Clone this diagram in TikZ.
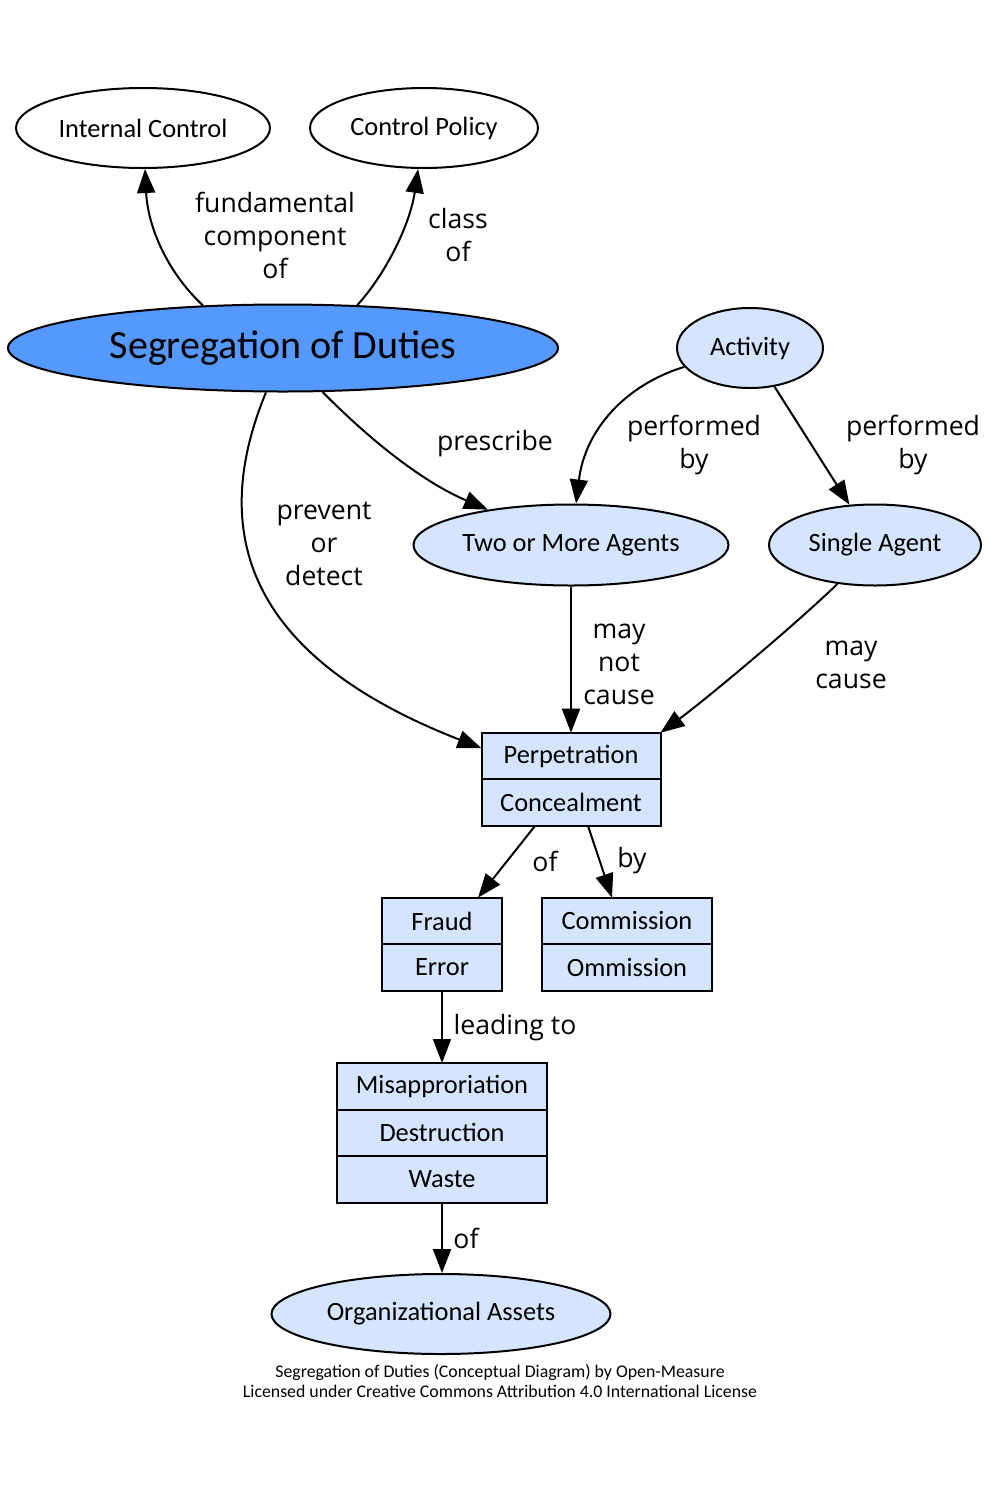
\documentclass[tikz,border=0pt]{standalone}
\usepackage{fontspec}
\setmainfont{Carlito}
\newfontfamily\lblfont{Open Sans}
\usetikzlibrary{shapes.geometric,arrows.meta}
\definecolor{sodblue}{HTML}{5599FF}
\definecolor{paleblue}{HTML}{D5E5FF}
\tikzset{
  oval/.style={ellipse, draw, line width=1pt, inner sep=0pt,
    minimum height=40pt, font=\fontsize{13.2}{16}\selectfont},
  cell/.style={rectangle, draw, line width=1pt, fill=paleblue, inner sep=0pt,
    outer sep=0pt, minimum height=23.3pt, font=\fontsize{13.2}{16}\selectfont},
  lbl/.style={align=center, inner sep=0pt,
    font=\lblfont\fontsize{13.3}{16.5}\selectfont},
  conn/.style={line width=1pt, -{Triangle[length=12pt,width=9pt]}}
}
\begin{document}
\begin{tikzpicture}[x=0.5pt, y=-0.5pt]
  \useasboundingbox (0, 0) rectangle (1000, 1500);
  % top concepts
  \node [oval, minimum width=127pt] (ic) at (143, 128) {Internal Control};
  \node [oval, minimum width=114pt] (cp) at (424, 128) {Control Policy};
  \node [oval, fill=sodblue, minimum width=275pt, minimum height=43.5pt,
    font=\fontsize{20}{24}\selectfont] (sod) at (283, 348) {Segregation of Duties};
  % agents
  \node [oval, fill=paleblue, minimum width=73pt] (act) at (750, 348) {Activity};
  \node [oval, fill=paleblue, minimum width=157.5pt, minimum height=40.5pt] (two) at (571, 545) {Two or More Agents};
  \node [oval, fill=paleblue, minimum width=106pt, minimum height=40.5pt] (single) at (875, 545) {Single Agent};
  % records
  \node [cell, minimum width=89.5pt] (perp) at (571, 756) {Perpetration};
  \node [cell, minimum width=89.5pt, anchor=north] (conceal) at (perp.south) {Concealment};
  \node [cell, minimum width=60pt] (fraud) at (442, 921) {Fraud};
  \node [cell, minimum width=60pt, anchor=north] (error) at (fraud.south) {Error};
  \node [cell, minimum width=85pt] (comm) at (627, 921) {Commission};
  \node [cell, minimum width=85pt, anchor=north] (omm) at (comm.south) {Ommission};
  \node [cell, minimum width=105pt] (misapp) at (442, 1086.3) {Misapproriation};
  \node [cell, minimum width=105pt, anchor=north] (destr) at (misapp.south) {Destruction};
  \node [cell, minimum width=105pt, anchor=north] (waste) at (destr.south) {Waste};
  \node [oval, fill=paleblue, minimum width=169.5pt] (assets) at (441, 1314) {Organizational Assets};
  % connectors
  \draw [conn] (sod.152) .. controls (170, 275) and (148, 230) .. (ic);
  \draw [conn] (sod.30) .. controls (385, 275) and (410, 225) .. (cp);
  \draw [conn] (sod.-111) .. controls (205, 540) and (255, 660) .. (perp.175);
  \draw [conn] (sod.-48) .. controls (380, 450) and (430, 485) .. (two);
  \draw [conn] (act.196) .. controls (625, 385) and (585, 430) .. (two);
  \draw [conn] (act) -- (single);
  \draw [conn] (two) -- (perp);
  \draw [conn] (single.-134) .. controls (795, 625) and (705, 700) .. (perp.north east);
  \draw [conn] ([xshift=-18pt]conceal.south) -- ([xshift=18pt]fraud.north);
  \draw [conn] ([xshift=8.5pt]conceal.south) -- ([xshift=-7.5pt]comm.north);
  \draw [conn] (error) -- (misapp);
  \draw [conn] (waste) -- (waste |- assets.north);
  % connector labels
  \node [lbl] (lfund) at (275, 235) {fundamental\\component\\of};
  \node [lbl] (lclass) at (458, 235) {class\\of};
  \node [lbl] (lprev) at (324, 544) {prevent\\or\\detect};
  \node [lbl] (lpres) at (495, 444) {prescribe};
  \node [lbl] (lperf) at (694, 445) {performed\\by};
  \node [lbl] (lperfs) at (913, 445) {performed\\by};
  \node [lbl] (lnot) at (619, 664) {may\\not\\cause};
  \node [lbl] (lmay) at (851, 665) {may\\cause};
  \node [lbl] (lof) at (545, 861) {of};
  \node [lbl] (lby) at (632, 861) {by};
  \node [lbl] (llead) at (515, 1028) {leading to};
  \node [lbl] (lofa) at (466, 1238) {of};
  % footer
  \node [align=center, inner sep=0pt, font=\fontsize{8.9}{10}\selectfont] (credit) at (500, 1381)
    {Segregation of Duties (Conceptual Diagram) by Open-Measure\\Licensed under Creative Commons Attribution 4.0 International License};
\end{tikzpicture}
\end{document}
